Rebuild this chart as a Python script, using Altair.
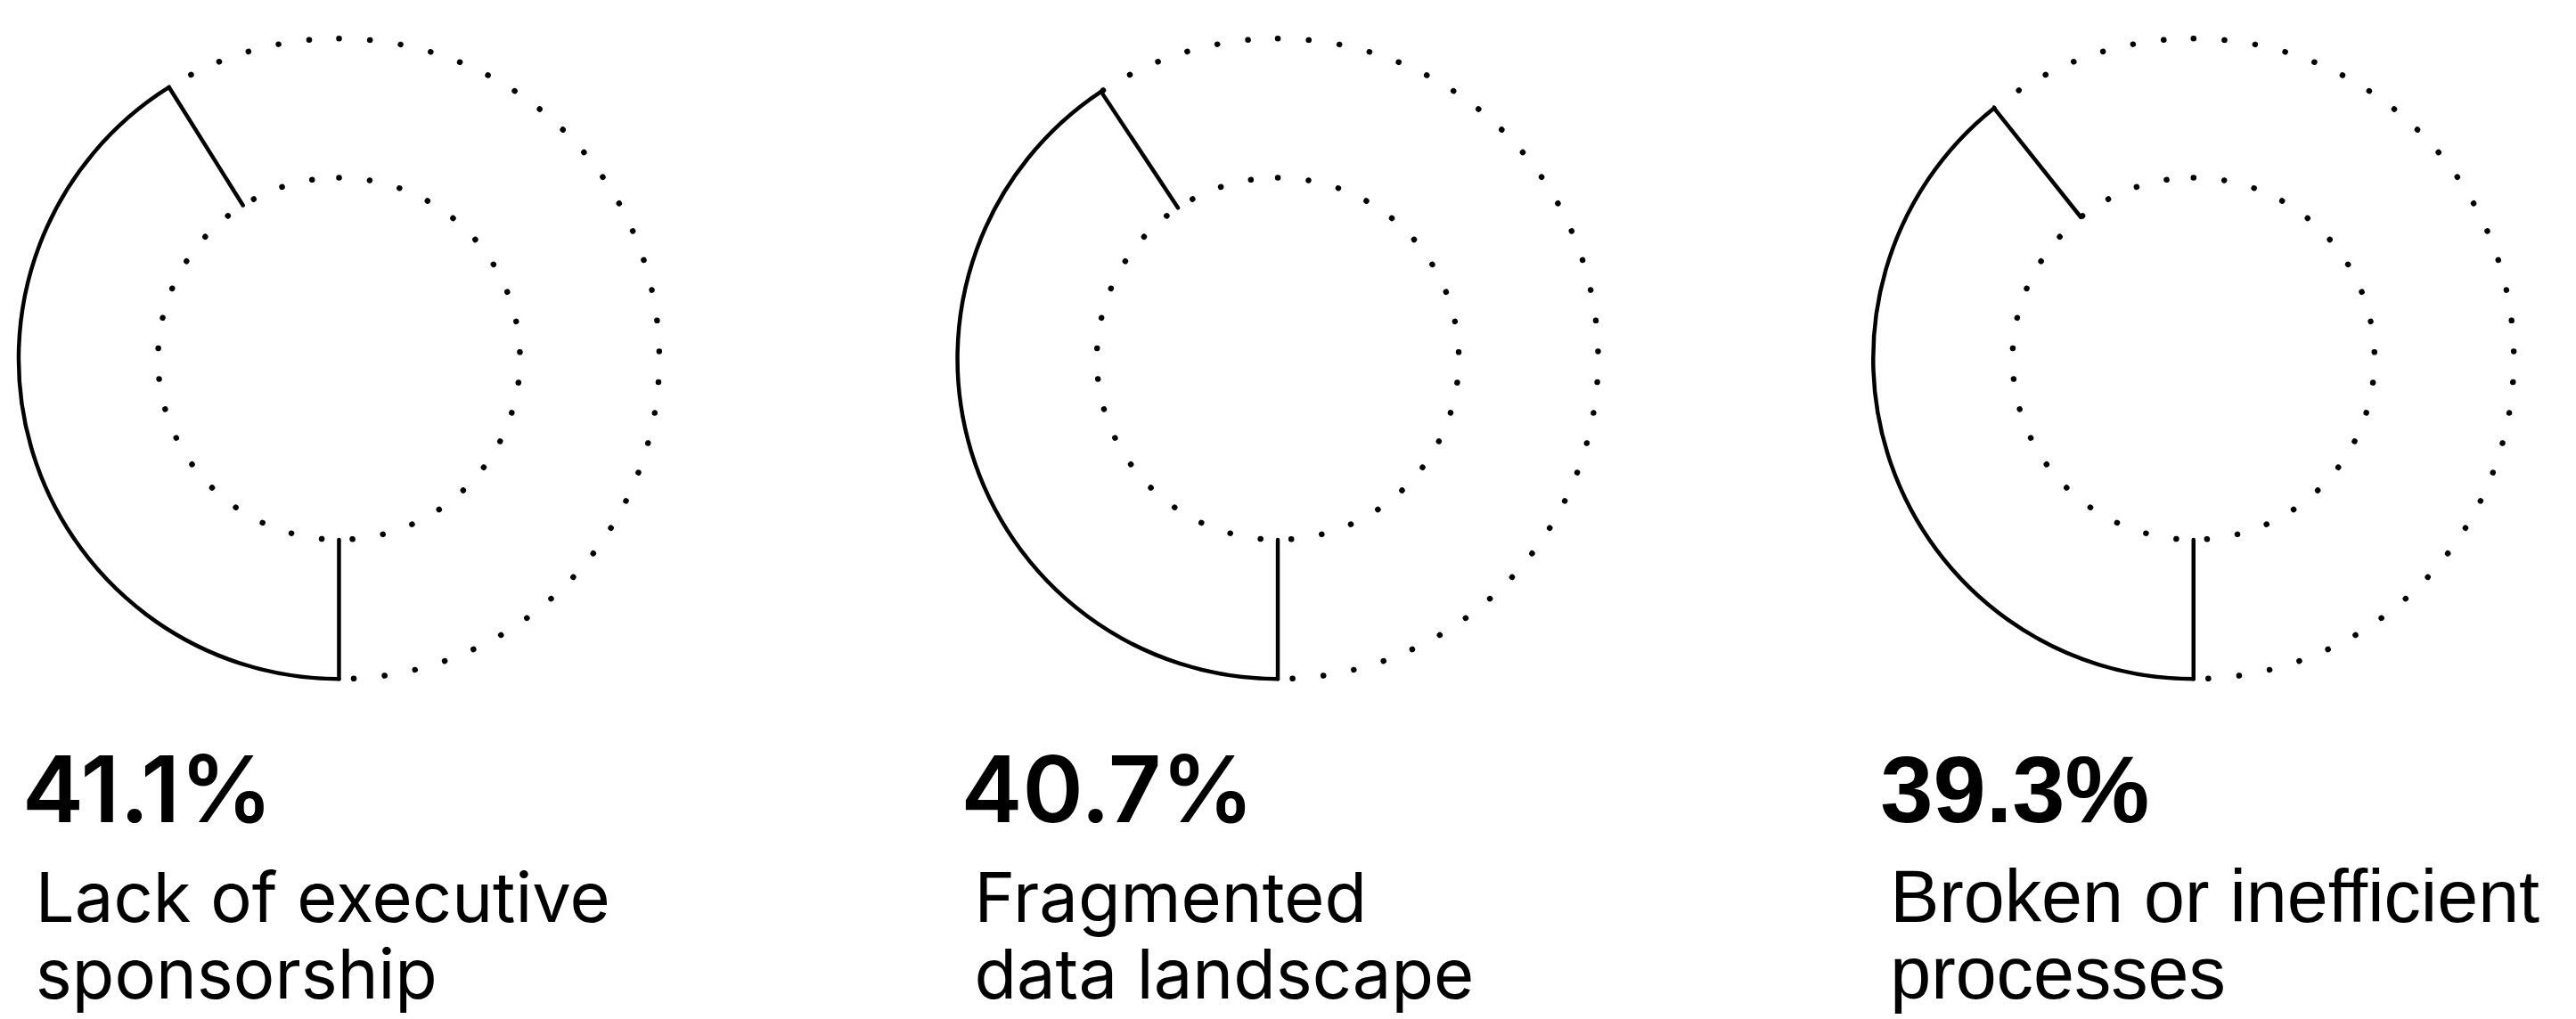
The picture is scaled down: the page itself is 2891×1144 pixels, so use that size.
import math
import altair as alt
import pandas as pd

# ---- data ----
categories = ["Lack of executive sponsorship", "Fragmented data landscape", "Broken or inefficient processes"]
values = [41.1, 40.7, 39.3]
labels = ["Lack of executive\nsponsorship", "Fragmented\ndata landscape", "Broken or inefficient\nprocesses"]

df = pd.DataFrame({
    "cat": categories,
    "idx": list(range(len(categories))),
    "value": values,
    "label": labels,
})

# ---- layout / style ----
TAU = 2 * math.pi
R_OUT, R_IN = 361, 204
CX, CY = 362, 394
PANEL_W = [1058, 1032, 785]
PANEL_H = 1128
FONTS = ["Inter", "Inter", "Liberation Sans"]
PCT_DX = [-357, -357, -353]
LAB_DX = [-342, -342, -342]
PCT_SIZE = [104, 104, 107]
LAB_SIZE = [78, 78, 83]
PCT_WEIGHT = [600, 600, "bold"]
LINE_W = 4.5
DOT_W = 6.5

theta_scale = alt.Scale(domain=[0, 100], range=[0, TAU])


def panel(i):
    base = alt.Chart(df).transform_filter(f"datum.idx == {i}").transform_calculate(
        start="50",
        end="50 + datum.value",
        pct="format(datum.value, '.1f') + '%'",
    )
    pos = dict(x=alt.value(CX), y=alt.value(CY))

    def seg(a, b):
        return dict(
            **pos,
            theta=alt.Theta(f"{a}:Q", scale=theta_scale, stack=None),
            theta2=alt.Theta2(f"{b}:Q"),
        )

    outer_dots = base.mark_arc(
        radius=R_OUT, theta=0, theta2=TAU, filled=False, stroke="black",
        strokeWidth=DOT_W, strokeDash=[0.1, 34.8], strokeCap="round",
    ).encode(**pos)

    cover = base.mark_arc(
        radius=R_OUT + 7, radius2=R_IN + 9, fill="white", strokeWidth=0,
    ).encode(**seg("start", "end"))

    solid_arc = base.mark_arc(
        radius=R_OUT, radius2=R_OUT, filled=False, stroke="black",
        strokeWidth=LINE_W, strokeJoin="round",
    ).encode(**seg("start", "end"))

    edge_start = base.mark_arc(
        radius=R_OUT, radius2=R_IN, filled=False, stroke="black",
        strokeWidth=LINE_W, strokeJoin="round",
    ).encode(**seg("start", "start"))

    edge_end = base.mark_arc(
        radius=R_OUT, radius2=R_IN, filled=False, stroke="black",
        strokeWidth=LINE_W, strokeJoin="round",
    ).encode(**seg("end", "end"))

    inner_dots = base.mark_arc(
        radius=R_IN, theta=0, theta2=TAU, filled=False, stroke="black",
        strokeWidth=DOT_W, strokeDash=[0.1, 34.64], strokeCap="round",
    ).encode(**pos)

    pct = base.mark_text(
        align="left", baseline="alphabetic", dx=PCT_DX[i], font=FONTS[i],
        fontSize=PCT_SIZE[i], fontWeight=PCT_WEIGHT[i], color="black",
    ).encode(x=alt.value(CX), y=alt.value(916), text="pct:N")

    lab = base.mark_text(
        align="left", baseline="alphabetic", dx=LAB_DX[i], font=FONTS[i],
        fontSize=LAB_SIZE[i], fontWeight="normal", color="black",
        lineBreak="\n", lineHeight=86,
    ).encode(x=alt.value(CX), y=alt.value(1029), text="label:N")

    return alt.layer(
        outer_dots, cover, solid_arc, edge_start, edge_end, inner_dots, pct, lab,
    ).properties(width=PANEL_W[i], height=PANEL_H)


chart = alt.hconcat(
    *[panel(i) for i in range(len(categories))],
    spacing=0, bounds="flush",
).properties(
    padding=0, background="white",
).configure_view(stroke=None)

chart.save("out.html", embed_options={"renderer": "svg", "actions": False})
